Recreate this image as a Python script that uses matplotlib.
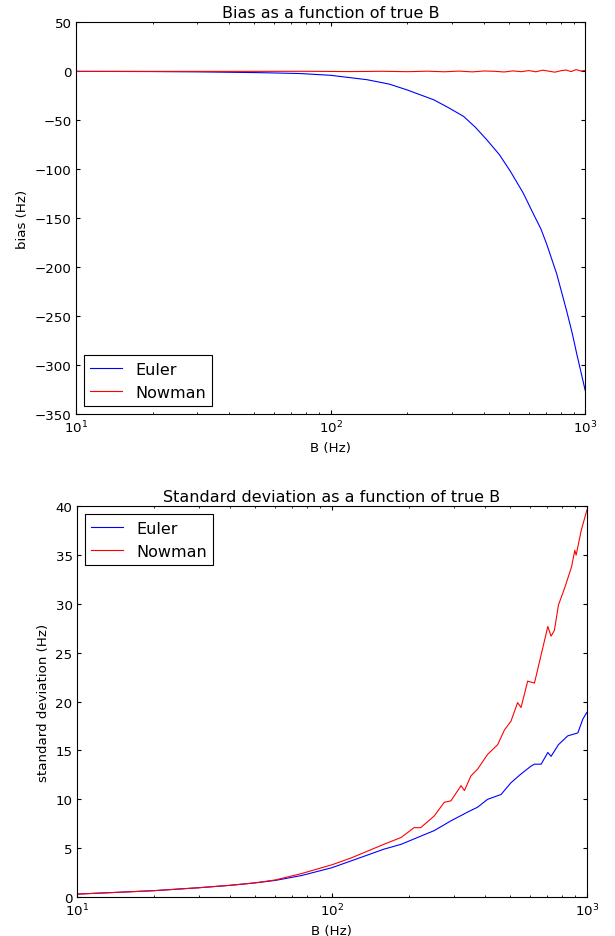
import numpy as np
import matplotlib
matplotlib.use('Agg')
import matplotlib.pyplot as plt

# values
b_euler_bias = [10, 15, 20, 30, 40, 50, 60, 76, 100, 139, 170, 200, 254, 290, 333,
                370, 411, 460, 508, 570, 627, 670, 707, 773, 846, 890, 927, 960, 1000]
euler_bias = [0, -0.1, -0.2, -0.5, -0.9, -1.2, -1.6, -2.2, -4, -8.5, -13, -19, -29, -37, -46,
              -57, -70, -85, -102, -124, -146, -161, -177, -207, -245, -268, -289, -306, -326]

b_nowman_bias = [10, 20, 40, 80, 120, 160, 200, 240, 280, 320, 360, 400, 440, 480, 520,
                 560, 600, 640, 680, 720, 760, 800, 840, 880, 920, 960, 1000]
nowman_bias = [0, 0, 0, 0.1, -0.2, 0.1, -0.3, 0.2, -0.4, 0.3, -0.5, 0.4, 0.1, -0.6, 0.5,
               -0.3, 0.8, -0.4, 1.2, 0.2, -0.8, 0.6, 1.4, -0.2, 1.8, 0.4, 0.9]

b_euler_std = [10, 15, 20, 30, 40, 50, 60, 76, 100, 119, 138, 160, 187, 217, 252, 293,
               341, 373, 408, 461, 504, 552, 604, 623, 662, 703, 724, 774, 842, 922, 964, 1000]
euler_std = [0.3, 0.5, 0.65, 0.95, 1.2, 1.45, 1.7, 2.2, 3.0, 3.7, 4.3, 4.9, 5.4, 6.1, 6.8, 7.8,
             8.7, 9.2, 10.0, 10.5, 11.7, 12.6, 13.4, 13.6, 13.6, 14.8, 14.4, 15.6, 16.5, 16.8, 18.2, 18.9]

b_nowman_std = [10, 15, 20, 30, 40, 50, 60, 76, 100, 119, 138, 160, 187, 210, 223, 252,
                276, 293, 321, 331, 351, 373, 408, 447, 475, 504, 535, 552, 586, 623, 662,
                703, 724, 746, 774, 820, 871, 897, 908, 950, 1000]
nowman_std = [0.3, 0.5, 0.65, 0.95, 1.2, 1.45, 1.75, 2.4, 3.3, 4.0, 4.7, 5.4, 6.1, 7.1, 7.1, 8.3,
              9.7, 9.85, 11.4, 10.9, 12.4, 13.1, 14.6, 15.6, 17.1, 18.0, 19.9, 19.4, 22.1, 21.9, 24.8,
              27.7, 26.7, 27.3, 29.9, 31.7, 33.8, 35.5, 35.0, 37.5, 39.6]

plt.rcParams.update({
    'font.family': 'DejaVu Sans',
    'font.size': 9.6,
    'xtick.direction': 'in',
    'ytick.direction': 'in',
    'xtick.top': True,
    'ytick.right': True,
    'xtick.major.size': 3.2,
    'ytick.major.size': 3.2,
    'xtick.minor.size': 1.6,
    'ytick.minor.size': 1.6,
    'xtick.major.pad': 3.2,
    'ytick.major.pad': 3.2,
    'axes.linewidth': 0.8,
    'axes.titlesize': 11.5,
    'axes.labelsize': 9.6,
    'xtick.labelsize': 9.6,
    'ytick.labelsize': 9.6,
    'legend.fontsize': 11.5,
    'legend.fancybox': False,
    'legend.edgecolor': 'black',
    'legend.framealpha': 1,
    'lines.linewidth': 0.8,
})


def style_axes(ax):
    ax.set_xscale('log')
    ax.set_xlim(10, 1000)
    ax.xaxis.set_ticks_position('both')
    ax.yaxis.set_ticks_position('both')
    ax.tick_params(which='both', direction='in')


fig = plt.figure(figsize=(6.15, 9.37), dpi=100)

ax1 = fig.add_axes([0.1236, 0.557, 0.828, 0.418])
ax1.plot(b_euler_bias, euler_bias, color='b', label='Euler')
ax1.plot(b_nowman_bias, nowman_bias, color='r', label='Nowman')
style_axes(ax1)
ax1.set_ylim(-350, 50)
ax1.set_yticks(np.arange(-350, 51, 50))
ax1.set_title('Bias as a function of true B', pad=4)
ax1.set_xlabel('B (Hz)')
ax1.set_ylabel('bias (Hz)')
leg = ax1.legend(loc='lower left')
leg.get_frame().set_linewidth(0.8)

ax2 = fig.add_axes([0.1252, 0.0416, 0.829, 0.417])
ax2.plot(b_euler_std, euler_std, color='b', label='Euler')
ax2.plot(b_nowman_std, nowman_std, color='r', label='Nowman')
style_axes(ax2)
ax2.set_ylim(0, 40)
ax2.set_yticks(np.arange(0, 41, 5))
ax2.set_title('Standard deviation as a function of true B', pad=4)
ax2.set_xlabel('B (Hz)')
ax2.set_ylabel('standard deviation (Hz)')
leg = ax2.legend(loc='upper left')
leg.get_frame().set_linewidth(0.8)

fig.savefig('out.png', dpi=100)
